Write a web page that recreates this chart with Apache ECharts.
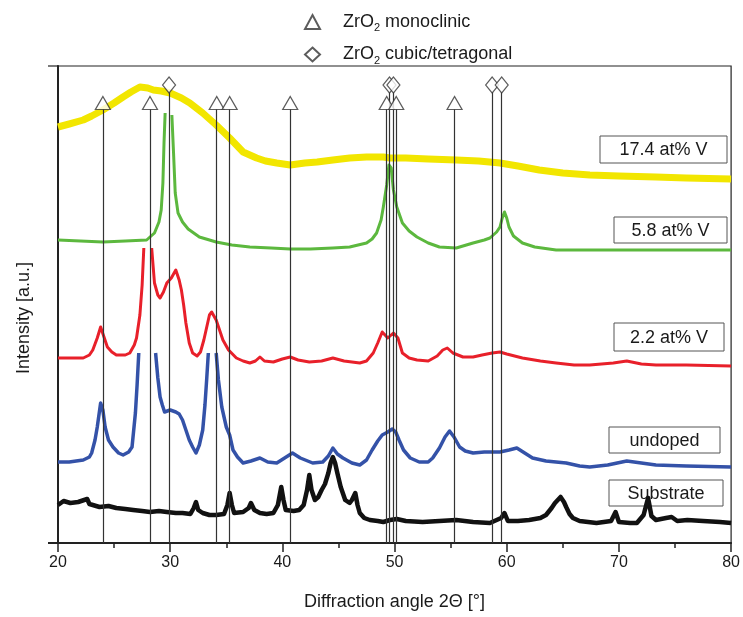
<!DOCTYPE html>
<html>
<head>
<meta charset="utf-8">
<script src="https://cdn.jsdelivr.net/npm/echarts@6/dist/echarts.min.js"></script>
<style>
  html, body { margin: 0; padding: 0; background: #fff; }
  #chart { width: 743px; height: 617px; }
</style>
</head>
<body>
<div id="chart"></div>
<script>
// diffraction traces, [2theta, intensity (a.u., stacked offset)]
var v174 = [[20,416],[21,419],[22.25,423],[23,427],[24,433],[25,440],[25.8,446],[26.5,451],[27.3,456],[28,455],[28.5,453],[29.2,452],[30,450],[31,445],[31.75,440],[32.9,430],[34.1,418],[35.3,405],[36.5,391],[37.7,385],[38.5,382],[39.5,380],[40.7,378],[42,380],[43.1,381],[44.5,383],[46,385],[47.5,386],[49,386],[49.6,385],[51,385],[53,384],[55.5,383],[57.5,382],[59.4,380],[61,377],[62.9,373],[65,370],[67.4,368],[70,367],[73.3,366],[76,365],[80,364]];

var v58 = [[20,303],[22,302],[24,301],[26,302],[27.9,303],[28.6,310],[29,321],[29.2,333],[29.35,360],[29.45,400],[29.55,430],[29.85,null],[30.15,428],[30.3,390],[30.45,350],[30.7,330],[31.1,321],[31.6,314],[32.6,306],[34.1,301],[35.5,298],[37.1,296],[39,295],[40.7,294],[42.5,294],[44.5,295],[46,296],[47.5,300],[48,304],[48.4,310],[48.8,323],[49,336],[49.3,358],[49.5,378],[49.7,375],[49.9,353],[50.2,336],[50.7,320],[51.3,312],[52,306],[53,300],[54,296],[55.5,295],[57,300],[58,303],[58.5,305],[59.1,311],[59.4,316],[59.6,325],[59.8,331],[60,325],[60.2,316],[60.6,307],[61.4,300],[62.5,296],[64.4,293],[67,293],[70,293],[75,293],[80,293]];

var v22 = [[20,185],[21,185],[22.25,185],[22.8,188],[23.1,193],[23.5,205],[23.8,216],[24.1,206],[24.4,196],[24.8,191],[25.2,188],[26,188],[26.4,190],[26.8,198],[27,205],[27.3,228],[27.5,258],[27.65,295],[28,null],[28.35,295],[28.6,260],[28.9,248],[29.1,245],[29.4,251],[29.7,260],[30.1,265],[30.5,273],[30.8,263],[31,253],[31.2,238],[31.4,220],[31.7,200],[32,190],[32.4,187],[32.7,191],[33,203],[33.2,213],[33.5,228],[33.7,231],[33.9,227],[34.1,223],[34.4,213],[34.7,203],[35.2,193],[35.9,185],[36.5,182],[37.1,180],[37.6,182],[38,186],[38.4,182],[39.2,181],[40,184],[40.7,186],[41.4,183],[42.4,181],[43.5,182],[44.5,185],[45.5,182],[46.9,180],[47.5,182],[48.1,190],[48.5,200],[48.9,211],[49.4,205],[49.9,210],[50.3,205],[50.7,190],[51.3,185],[52,183],[53,182],[53.8,187],[54.3,193],[54.7,195],[55.2,190],[56.1,186],[57,186],[57.8,188],[58.7,190],[59.4,191],[60,189],[61.4,185],[63,182],[64.4,180],[66,178],[67.4,178],[69.5,180],[70.7,182],[72,179],[73.3,178],[76,178],[80,177]];

var vUndoped = [[20,81],[21,81],[22.25,83],[22.8,86],[23,90],[23.3,103],[23.5,116],[23.8,140],[24,133],[24.2,116],[24.5,103],[24.9,96],[25.4,90],[25.8,88],[26.3,91],[26.6,96],[26.9,130],[27.05,158],[27.2,190],[27.9,null],[28.7,190],[28.9,165],[29.1,146],[29.3,138],[29.5,131],[30,133],[30.5,131],[30.8,129],[31.1,123],[31.4,113],[31.7,103],[32,96],[32.3,90],[32.6,98],[32.9,113],[33.1,138],[33.25,163],[33.4,190],[33.75,null],[34.1,190],[34.3,163],[34.6,136],[35,116],[35.3,108],[35.6,93],[36,86],[36.5,80],[37.2,82],[38,85],[38.7,81],[39.5,80],[40.2,85],[40.9,90],[41.6,85],[42.7,80],[43.6,81],[44.1,87],[44.5,95],[44.9,89],[45.4,85],[46.2,80],[46.9,78],[47.5,83],[48,93],[48.5,102],[48.9,108],[49.4,111],[49.8,114],[50.1,111],[50.4,103],[50.8,93],[51.4,85],[52.2,81],[53,81],[53.4,85],[54,95],[54.5,106],[54.9,112],[55.3,106],[55.8,96],[56.3,92],[57,90],[58,91],[59.4,91],[60.2,93],[60.9,95],[61.6,90],[62.3,85],[63.5,82],[65.3,80],[66.5,77],[67.4,76],[69,78],[70.7,82],[72,80],[73.3,78],[76,77],[80,76]];

var vSubstrate = [[20,38],[20.5,42],[21.1,40],[21.8,41],[22.6,44],[22.8,39],[23.7,36],[24.5,37],[25.2,35],[26,34],[26.7,33],[27.5,32],[28.2,31],[29,32],[29.7,31],[30.5,30],[31.1,30],[31.8,29],[32.1,35],[32.3,41],[32.5,33],[32.9,30],[33.5,28],[34.1,28],[34.8,29],[35.1,38],[35.3,50],[35.5,38],[35.7,30],[36.5,31],[37,35],[37.2,40],[37.5,33],[38,30],[38.6,29],[39.2,30],[39.6,38],[39.9,56],[40.1,43],[40.3,33],[41,32],[41.5,33],[41.9,38],[42.2,53],[42.4,68],[42.6,53],[42.9,43],[43.2,46],[43.5,53],[43.8,59],[44.1,70],[44.3,80],[44.5,86],[44.7,80],[44.9,70],[45.2,56],[45.6,43],[46,40],[46.2,43],[46.5,50],[46.7,38],[46.9,30],[47.3,25],[47.8,23],[48.5,22],[49,21],[49.6,23],[50.2,24],[51,22],[52.5,21],[54,22],[55.5,23],[57,21],[58.5,20],[59.5,25],[59.8,30],[60.1,22],[61,22],[62,23],[63,25],[63.5,28],[64,35],[64.3,40],[64.8,46],[65.1,41],[65.3,36],[65.6,29],[65.9,25],[66.5,22],[68,20],[69.3,22],[69.7,31],[70,21],[71,20],[71.6,20],[72.2,28],[72.6,45],[72.9,27],[73.3,23],[74.2,25],[74.7,26],[75.2,22],[76.1,23],[77.5,22],[79,21],[80,20]];

// reference reflections
var monoclinic = [24.0, 28.2, 34.15, 35.3, 40.7, 49.3, 50.15, 55.35];
var cubicTetragonal = [29.9, 49.55, 49.9, 58.7, 59.55];
var monoY = 440, cubicY = 458;

var sampleLabels = ['17.4 at% V', '5.8 at% V', '2.2 at% V', 'undoped', 'Substrate'];

var FONT = 'Liberation Sans, Arial, sans-serif';

function refSeries(name, xs, y, symbol, size, lineTop) {
  return {
    name: name,
    type: 'scatter',
    z: 10,
    symbol: symbol,
    symbolSize: size,
    itemStyle: { color: '#fff', borderColor: '#333', borderWidth: 1.2 },
    data: xs.map(function (x) { return [x, y]; }),
    markLine: {
      silent: true,
      symbol: 'none',
      z: 9,
      label: { show: false },
      lineStyle: { color: '#333', width: 1.2, type: 'solid' },
      data: xs.map(function (x) { return [{ coord: [x, 0] }, { coord: [x, lineTop] }]; })
    }
  };
}

function trace(name, data, color, width) {
  return {
    name: name,
    type: 'line',
    data: data,
    smooth: false,
    showSymbol: false,
    connectNulls: false,
    lineStyle: { color: color, width: width, join: 'round' },
    itemStyle: { color: color }
  };
}

function box(text, x, y, w, h) {
  return {
    type: 'group',
    z: 1,
    children: [
      { type: 'rect', shape: { x: x, y: y, width: w, height: h }, style: { fill: '#fff', stroke: '#555', lineWidth: 1 } },
      { type: 'text', x: x + w / 2, y: y + h / 2 + 1, style: { text: text, font: '18px ' + FONT, fill: '#1a1a1a', align: 'center', verticalAlign: 'middle' } }
    ]
  };
}

var chart = echarts.init(document.getElementById('chart'));
chart.setOption({
  animation: false,
  backgroundColor: '#fff',
  grid: { left: 58, right: 10, top: 66, bottom: 74, show: true, borderColor: '#222', borderWidth: 1.2 },
  legend: {
    orient: 'vertical',
    left: 299,
    top: 8,
    itemWidth: 15,
    itemHeight: 14,
    itemGap: 12,
    data: ['ZrO2 monoclinic', 'ZrO2 cubic/tetragonal'],
    formatter: function (name) {
      return '{g| }{t|ZrO}{s|2}{t|' + name.slice(4) + '}';
    },
    textStyle: {
      color: '#1a1a1a',
      fontFamily: FONT,
      fontSize: 18,
      rich: {
        g: { width: 18 },
        t: { fontSize: 18, fontFamily: FONT, color: '#1a1a1a' },
        s: { fontSize: 11, fontFamily: FONT, color: '#1a1a1a', padding: [12, 0, 0, 0] }
      }
    }
  },
  xAxis: {
    type: 'value',
    min: 20,
    max: 80,
    interval: 10,
    name: 'Diffraction angle 2Θ [°]',
    nameLocation: 'middle',
    nameGap: 50,
    nameTextStyle: { fontFamily: FONT, fontSize: 18, color: '#1a1a1a' },
    axisLine: { lineStyle: { color: '#222', width: 2 } },
    axisTick: { inside: false, length: 9, lineStyle: { color: '#222', width: 1.5 } },
    minorTick: { show: true, splitNumber: 2, length: 5, lineStyle: { color: '#222', width: 1.5 } },
    axisLabel: { fontFamily: FONT, fontSize: 16, color: '#1a1a1a', margin: 12 },
    splitLine: { show: false }
  },
  yAxis: {
    type: 'value',
    min: 0,
    max: 477,
    axisLine: { show: true, lineStyle: { color: '#222', width: 2 } },
    axisTick: { show: false },
    axisLabel: { show: false },
    splitLine: { show: false }
  },
  graphic: [
    { type: 'line', shape: { x1: 48, y1: 543, x2: 58, y2: 543 }, style: { stroke: '#222', lineWidth: 2 } },
    { type: 'line', shape: { x1: 48, y1: 66, x2: 58, y2: 66 }, style: { stroke: '#222', lineWidth: 1.2 } },
    { type: 'text', x: 24, y: 318, rotation: Math.PI / 2, style: { text: 'Intensity [a.u.]', font: '18px ' + FONT, fill: '#1a1a1a', align: 'center', verticalAlign: 'middle' } },
    box(sampleLabels[0], 600, 136, 127, 27),
    box(sampleLabels[1], 614, 217, 113, 26),
    box(sampleLabels[2], 614, 323, 110, 28),
    box(sampleLabels[3], 609, 427, 111, 26),
    box(sampleLabels[4], 609, 480, 114, 26)
  ],
  series: [
    trace('17.4', v174, '#f2e600', 7),
    trace('5.8', v58, '#5cb83e', 3),
    trace('2.2', v22, '#e8202a', 3),
    trace('undoped', vUndoped, '#3452a8', 3.5),
    trace('substrate', vSubstrate, '#111', 4.5),
    refSeries('ZrO2 monoclinic', monoclinic, monoY, 'triangle', [15, 13], monoY - 6),
    refSeries('ZrO2 cubic/tetragonal', cubicTetragonal, cubicY, 'diamond', [13, 16], cubicY - 7)
  ]
});
</script>
</body>
</html>
